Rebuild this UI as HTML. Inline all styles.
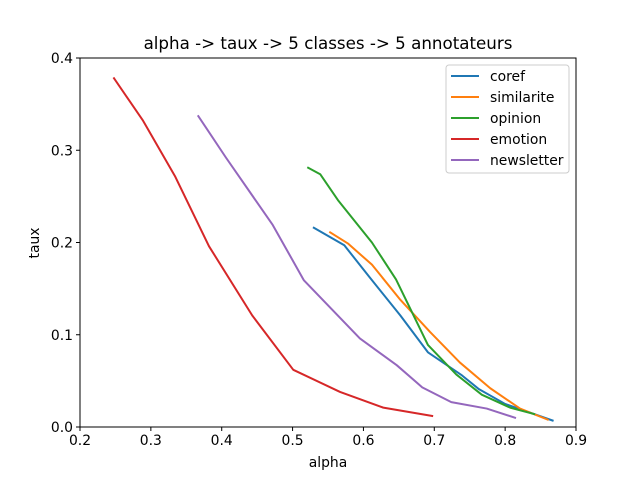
<!DOCTYPE html>
<html><head><meta charset="utf-8"><style>
body{margin:0;background:#fff;}
svg{display:block;font-family:"DejaVu Sans","Liberation Sans",sans-serif;}
</style></head><body>
<svg id="chart" width="640" height="480" xmlns="http://www.w3.org/2000/svg">
<rect width="640" height="480" fill="#fff"/>
<text x="328" y="49" font-size="16.7" text-anchor="middle">alpha -&gt; taux -&gt; 5 classes -&gt; 5 annotateurs</text>
<g id="plot"></g>
<text x="328" y="467" font-size="13.9" text-anchor="middle">alpha</text>
<text x="0" y="0" font-size="13.9" text-anchor="middle" transform="translate(39,243) rotate(-90)">taux</text>
</svg>
<script>
const seriesNames=["coref","similarite","opinion","emotion","newsletter"];
const colors=["#1f77b4","#ff7f0e","#2ca02c","#d62728","#9467bd"];
const xTicks=[0.2,0.3,0.4,0.5,0.6,0.7,0.8,0.9];
const yTicks=[0.0,0.1,0.2,0.3,0.4];
const corefX=[0.530,0.573,0.609,0.652,0.691,0.739,0.763,0.800,0.867];
const corefY=[0.216,0.197,0.162,0.121,0.081,0.056,0.041,0.025,0.007];
const simX=[0.553,0.578,0.612,0.652,0.694,0.736,0.779,0.821,0.860];
const simY=[0.211,0.199,0.176,0.138,0.103,0.070,0.042,0.020,0.008];
const opX=[0.522,0.539,0.564,0.612,0.646,0.691,0.731,0.767,0.807,0.841];
const opY=[0.281,0.274,0.246,0.200,0.160,0.089,0.057,0.035,0.021,0.014];
const emoX=[0.248,0.289,0.334,0.382,0.443,0.501,0.567,0.628,0.697];
const emoY=[0.378,0.332,0.272,0.196,0.121,0.062,0.038,0.021,0.012];
const newsX=[0.367,0.406,0.472,0.516,0.595,0.647,0.683,0.724,0.774,0.814];
const newsY=[0.337,0.292,0.219,0.159,0.096,0.067,0.043,0.027,0.020,0.010];
const allX=[corefX,simX,opX,emoX,newsX], allY=[corefY,simY,opY,emoY,newsY];

const L=80,R=576,T=58,B=427,NS="http://www.w3.org/2000/svg";
const sx=v=>L+(v-0.2)/0.7*(R-L), sy=v=>B-v/0.4*(B-T);
const g=document.getElementById('plot');
function mk(t,a){const e=document.createElementNS(NS,t);for(const k in a)e.setAttribute(k,a[k]);g.appendChild(e);return e;}
allX.forEach((xs,i)=>{
  const p=mk('polyline',{points:xs.map((x,j)=>sx(x)+','+sy(allY[i][j])).join(' '),fill:'none',stroke:colors[i],'stroke-width':2,'stroke-linejoin':'round','stroke-linecap':'square'});
  
  
});
const fr=mk('rect',{x:L,y:T,width:R-L,height:B-T,fill:'none',stroke:'#000','stroke-width':1});


xTicks.forEach(v=>{
  const x=sx(v);
  const t=mk('line',{x1:x,x2:x,y1:B,y2:B+4,stroke:'#000'});
  
  
  const s=mk('text',{x:x,y:B+18,'font-size':13.9,'text-anchor':'middle'});s.textContent=v.toFixed(1);
  
  
});
yTicks.forEach(v=>{
  const y=sy(v);
  const t=mk('line',{x1:L-4,x2:L,y1:y,y2:y,stroke:'#000'});
  
  
  const s=mk('text',{x:L-7,y:y+5,'font-size':13.9,'text-anchor':'end'});s.textContent=v.toFixed(1);
  
  
});
const lg=mk('rect',{x:446,y:65,width:123,height:108,rx:3,fill:'#fff','fill-opacity':0.8,stroke:'#ccc'});


seriesNames.forEach((n,i)=>{
  const y=76+i*21;
  const l=mk('line',{x1:451,x2:479,y1:y,y2:y,stroke:colors[i],'stroke-width':2});
  
  
  const s=mk('text',{x:490,y:y+5,'font-size':13.9});s.textContent=n;
  
  
});
</script>
</body></html>
